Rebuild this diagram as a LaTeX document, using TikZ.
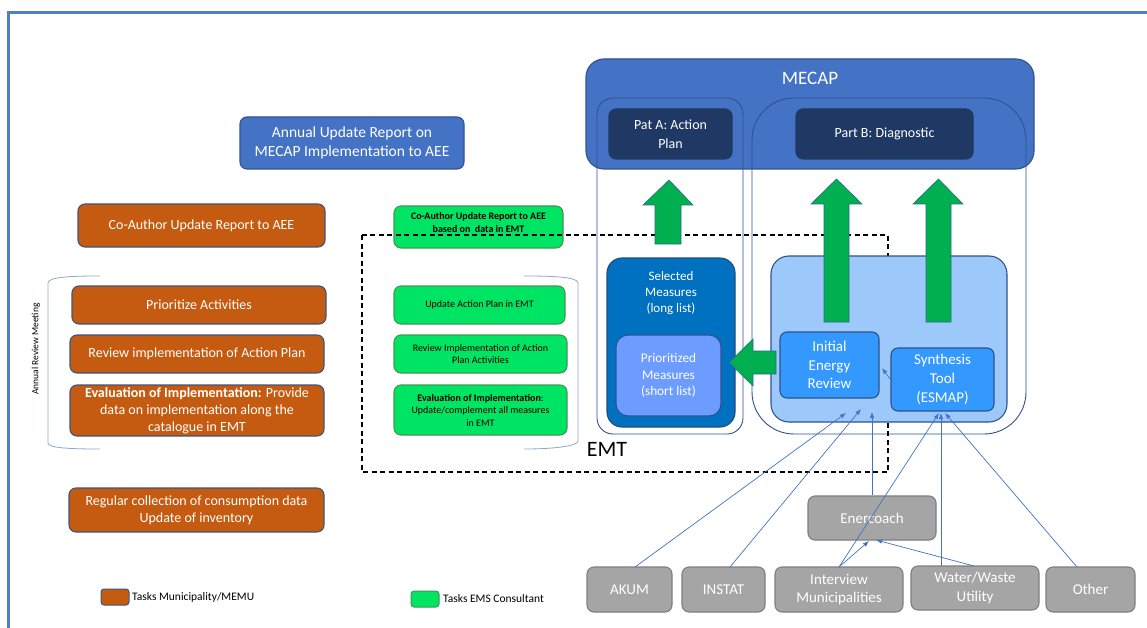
\documentclass[tikz,border=0pt]{standalone}
\usepackage{fontspec}
\setmainfont{Carlito}
\usetikzlibrary{arrows.meta}
\definecolor{frameC}{HTML}{4F81BD}
\definecolor{blueF}{HTML}{4472C4}
\definecolor{blueB}{HTML}{2F528F}
\definecolor{darkF}{HTML}{1F3864}
\definecolor{orangeF}{HTML}{C55A11}
\definecolor{orangeB}{HTML}{3F5580}
\definecolor{greenF}{HTML}{00E464}
\definecolor{greenB}{HTML}{3E9A52}
\definecolor{selF}{HTML}{0070C0}
\definecolor{selB}{HTML}{1F4E79}
\definecolor{prioF}{HTML}{6C9CFF}
\definecolor{lightF}{HTML}{9DC8FA}
\definecolor{midF}{HTML}{3399FF}
\definecolor{grayF}{HTML}{A5A5A5}
\definecolor{grayB}{HTML}{7F7F7F}
\definecolor{arrowF}{HTML}{00B050}
\definecolor{arrowB}{HTML}{2A6A8A}
\definecolor{bracketC}{HTML}{8EA9C8}
\begin{document}
\begin{tikzpicture}[x=1pt,y=-1pt,
  box/.style={rounded corners=7pt, draw, line width=1.1pt, inner sep=2pt, align=center, text=white},
  orangebox/.style={box, fill=orangeF, draw=orangeB, font=\fontsize{14}{17}\selectfont},
  greenbox/.style={box, fill=greenF, draw=greenB, text=black, font=\fontsize{10}{12.5}\selectfont},
  bluebox/.style={box, fill=blueF, draw=blueB},
  darkbox/.style={box, fill=darkF, draw=darkF, font=\fontsize{14}{18.5}\selectfont},
  outlinebox/.style={draw=blueB, line width=0.9pt},
  midbox/.style={box, fill=midF, draw=blueB, font=\fontsize{15}{18.7}\selectfont},
  graybox/.style={box, fill=grayF, draw=grayB, font=\fontsize{15}{18.7}\selectfont},
  bigarrow/.style={fill=arrowF, draw=arrowB, line width=0.6pt},
  conn/.style={draw=blueF, line width=0.7pt, -{Latex[length=6pt,width=4.5pt]}},
  legendbox/.style={rounded corners=3pt, draw, line width=1pt, minimum width=28pt, minimum height=16pt, inner sep=0pt},
  legendtext/.style={anchor=west, inner sep=0pt, font=\fontsize{11.5}{13}\selectfont},
  bracket/.style={draw=bracketC, line width=0.8pt},
  emtframe/.style={draw=black, line width=1.3pt, dash pattern=on 5pt off 3.5pt}
]
\useasboundingbox (0,0) rectangle (1147,628);
\fill[white] (0,0) rectangle (1147,628);
% frame
\draw[frameC, line width=3pt] (8,628) -- (8,12.5) -- (1147,12.5);

% left column (municipality tasks)
\node[bluebox, minimum width=224pt, minimum height=52pt, font=\fontsize{15.5}{19}\selectfont] (annual) at (352,143) {Annual Update Report on\\MECAP Implementation to AEE};
\node[orangebox, minimum width=247pt, minimum height=43pt] (o1) at (201.5,225.5) {Co-Author Update Report to AEE};
\node[orangebox, minimum width=254pt, minimum height=38pt] (o2) at (199,305) {Prioritize Activities};
\node[orangebox, minimum width=254pt, minimum height=38pt] (o3) at (197,354) {Review implementation of Action Plan};
\node[orangebox, minimum width=254pt, minimum height=51pt] (o4) at (197,410.5) {\textbf{Evaluation of Implementation:} Provide\\data on implementation along the\\catalogue in EMT};
\node[orangebox, minimum width=255pt, minimum height=44pt] (o5) at (196.5,510) {Regular collection of consumption data\\Update of inventory};

% brackets
\draw[bracket] (100,276) .. controls (70,276) and (48,277) .. (48,283) -- (48,443) .. controls (48,448) and (70,449) .. (100,449);
\draw[bracket] (524,276) .. controls (554,276) and (578,277) .. (578,283) -- (578,441) .. controls (578,446) and (554,449) .. (524,449);
\node[rotate=90, font=\fontsize{9.5}{11}\selectfont, inner sep=0pt] (arm) at (36,349) {Annual Review Meeting};

% green column (consultant tasks)
\node[greenbox, minimum width=169pt, minimum height=42pt] (g1) at (478.5,227) {};
\node[text=black, align=center, inner sep=0pt, font=\fontsize{10}{12.5}\selectfont] (g1label) at (478.5,222.5) {\textbf{Co-Author Update Report to AEE}\\\textbf{based on\ \ data in EMT}};
\node[greenbox, minimum width=171pt, minimum height=38pt] (g2) at (479.5,305) {Update Action Plan in EMT};
\node[greenbox, minimum width=173pt, minimum height=38pt] (g3) at (480.5,354) {Review Implementation of Action\\Plan Activities};
\node[greenbox, minimum width=173pt, minimum height=50pt] (g4) at (480.5,410) {\textbf{Evaluation of Implementation}:\\Update/complement all measures\\in EMT};

% MECAP
\node[bluebox, rounded corners=18pt, minimum width=448pt, minimum height=110pt] (mecap) at (810,114) {};
\node[text=white, font=\fontsize{19}{22}\selectfont, inner sep=0pt] (mecaplabel) at (810,78) {MECAP};
\node[outlinebox, rounded corners=16pt, minimum width=146pt, minimum height=336pt, inner sep=0pt] (partA) at (670,266) {};
\node[outlinebox, rounded corners=42pt, minimum width=274pt, minimum height=336pt, inner sep=0pt] (partB) at (889,266) {};
\node[darkbox, minimum width=123pt, minimum height=50pt] (pa) at (670.5,134) {Pat A: Action\\Plan};
\node[darkbox, minimum width=177pt, minimum height=50pt] (pb) at (884.5,134) {Part B: Diagnostic};

% EMT frame
\draw[emtframe] (362,235) rectangle (888,472);
\node[font=\fontsize{22}{24}\selectfont, inner sep=0pt] (emt) at (607,449) {EMT};

% inner boxes
\node[box, rounded corners=15pt, fill=selF, draw=selB, minimum width=128pt, minimum height=169pt] (sel) at (671,342.5) {};
\node[text=white, align=center, font=\fontsize{13}{16}\selectfont, inner sep=0pt] (sellabel) at (671,293) {Selected\\Measures\\(long list)};
\node[box, rounded corners=12pt, fill=prioF, draw=blueB, minimum width=105pt, minimum height=81pt, font=\fontsize{13.3}{16.3}\selectfont] (prio) at (668.5,375.5) {Prioritized\\Measures\\(short list)};
\node[box, rounded corners=18pt, fill=lightF, draw=blueB, minimum width=236pt, minimum height=166pt] (light) at (889,339) {};

% big green arrows
\draw[bigarrow] (655,244) -- (655,205) -- (643,205) -- (669,180) -- (693,205) -- (681,205) -- (681,244) -- cycle;
\draw[bigarrow] (824,322) -- (824,204) -- (811,204) -- (836.5,179) -- (862,204) -- (849,204) -- (849,322) -- cycle;
\draw[bigarrow] (926,322) -- (926,204) -- (913,204) -- (938.5,179) -- (963,204) -- (951,204) -- (951,322) -- cycle;
\draw[bigarrow] (776,351) -- (753,351) -- (753,339) -- (729,362.5) -- (753,386) -- (753,374) -- (776,374) -- cycle;

\node[midbox, minimum width=99pt, minimum height=66pt] (ier) at (829.5,365) {Initial\\Energy\\Review};
\node[midbox, minimum width=103pt, minimum height=63pt] (syn) at (942.5,379.5) {Synthesis\\Tool\\(ESMAP)};

% sources
\node[graybox, minimum width=128pt, minimum height=44pt] (ener) at (872,518) {Enercoach};
\node[graybox, minimum width=85pt, minimum height=45pt] (akum) at (629.5,589.5) {AKUM};
\node[graybox, minimum width=83pt, minimum height=45pt] (instat) at (723.5,589.5) {INSTAT};
\node[graybox, minimum width=128pt, minimum height=45pt] (interv) at (839,589.5) {Interview\\Municipalities};
\node[graybox, minimum width=128pt, minimum height=44pt] (water) at (975,588) {Water/Waste\\Utility};
\node[graybox, minimum width=89pt, minimum height=45pt] (other) at (1090.5,589.5) {Other};

% connector end points
\coordinate (e1) at (846,413);
\coordinate (e2) at (861,409);
\coordinate (e3) at (872,412);
\coordinate (e4) at (939,413);
\coordinate (e5) at (941,413);
\coordinate (e6) at (945,413);
\coordinate (s1) at (635,567);
\coordinate (s2) at (730,567);
\coordinate (s4) at (839,567);
\coordinate (s5) at (941,566);
\coordinate (s6) at (974,566);
\coordinate (s7) at (1077,567);
\coordinate (en1) at (869,541);
\coordinate (en2) at (876,540);
\coordinate (sy) at (882,368);

\draw[conn] (s1) -- (e1);
\draw[conn] (s2) -- (e2);
\draw[conn] (ener.north) -- (e3);
\draw[conn] (s4) -- (e4);
\draw[conn] (s5) -- (e5);
\draw[conn] (s7) -- (e6);
\draw[conn] (s4) -- (en1);
\draw[conn] (s6) -- (en2);
\draw[conn] (syn.west) -- (sy);

% legend
\node[legendbox, fill=orangeF, draw=orangeB] (leg1) at (115,597) {};
\node[legendtext] (leg1t) at (132,597) {Tasks Municipality/MEMU};
\node[legendbox, fill=greenF, draw=greenB] (leg2) at (425,599) {};
\node[legendtext] (leg2t) at (443,599) {Tasks EMS Consultant};
\end{tikzpicture}
\end{document}
